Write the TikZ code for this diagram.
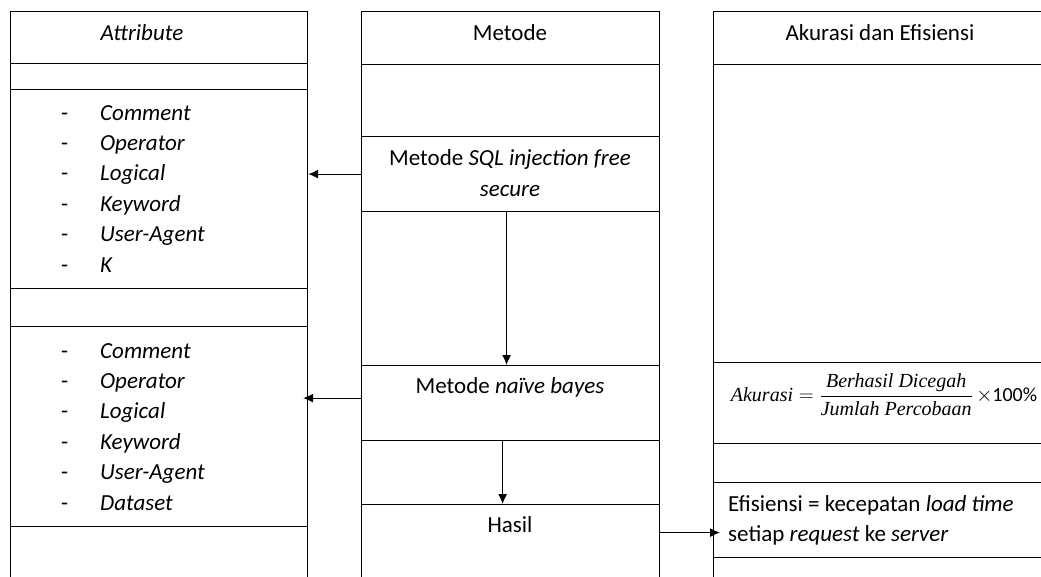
\documentclass[tikz,border=0pt]{standalone}
\usepackage{fontspec}
\setmainfont{Carlito}
\newfontfamily\rumusfont{Liberation Serif}
\usetikzlibrary{arrows.meta}
\tikzset{
  cell/.style={draw,line width=1.2pt,anchor=north west,inner sep=0pt},
  txt/.style={font=\fontsize{23}{30.4}\selectfont,inner sep=0pt},
  arr/.style={line width=1.1pt,-{Latex[length=10pt,width=9pt]}}
}
\begin{document}
\begin{tikzpicture}[x=1pt,y=-1pt]
\useasboundingbox (0,0) rectangle (1041,576);
\clip (0,0) rectangle (1041,576);
% kolom attribute
\node[cell,minimum width=297pt,minimum height=52pt] (attrH) at (10,11) {};
\node[cell,minimum width=297pt,minimum height=26pt] (attrE1) at (10,63) {};
\node[cell,minimum width=297pt,minimum height=199pt] (attrA) at (10,89) {};
\node[cell,minimum width=297pt,minimum height=38pt] (attrE2) at (10,288) {};
\node[cell,minimum width=297pt,minimum height=200pt] (attrB) at (10,326) {};
\node[cell,minimum width=297pt,minimum height=64pt] (attrE3) at (10,526) {};
% kolom metode
\node[cell,minimum width=298pt,minimum height=53pt] (metH) at (361,11) {};
\node[cell,minimum width=298pt,minimum height=72pt] (metE1) at (361,64) {};
\node[cell,minimum width=298pt,minimum height=75pt] (sql) at (361,136) {};
\node[cell,minimum width=298pt,minimum height=154pt] (metE2) at (361,211) {};
\node[cell,minimum width=298pt,minimum height=75pt] (nb) at (361,365) {};
\node[cell,minimum width=298pt,minimum height=64pt] (metE3) at (361,440) {};
\node[cell,minimum width=298pt,minimum height=86pt] (hasil) at (361,504) {};
% kolom akurasi
\node[cell,minimum width=347pt,minimum height=53pt] (akH) at (713,11) {};
\node[cell,minimum width=347pt,minimum height=298pt] (akE1) at (713,64) {};
\node[cell,minimum width=347pt,minimum height=81pt] (akurasi) at (713,362) {};
\node[cell,minimum width=347pt,minimum height=39pt] (akE2) at (713,443) {};
\node[cell,minimum width=347pt,minimum height=75pt] (efi) at (713,482) {};
\node[cell,minimum width=347pt,minimum height=33pt] (akE3) at (713,557) {};
% teks
\node[txt] (tAttr) at (142,33) {\textit{Attribute}};
\node[txt,align=left,anchor=north west] (listA) at (61,105) {%
\makebox[39pt][l]{-}\textit{Comment}\\ \makebox[39pt][l]{-}\textit{Operator}\\
\makebox[39pt][l]{-}\textit{Logical}\\ \makebox[39pt][l]{-}\textit{Keyword}\\
\makebox[39pt][l]{-}\textit{User-Agent}\\ \makebox[39pt][l]{-}\textit{K}};
\node[txt,align=left,anchor=north west] (listB) at (61,343) {%
\makebox[39pt][l]{-}\textit{Comment}\\ \makebox[39pt][l]{-}\textit{Operator}\\
\makebox[39pt][l]{-}\textit{Logical}\\ \makebox[39pt][l]{-}\textit{Keyword}\\
\makebox[39pt][l]{-}\textit{User-Agent}\\ \makebox[39pt][l]{-}\textit{Dataset}};
\node[txt] (tMet) at (510,33) {Metode};
\node[txt,align=center] (tSql) at (510,173) {Metode \textit{SQL injection free}\\ \textit{secure}};
\node[txt] (tNb) at (510,387) {Metode \textit{naïve bayes}};
\node[txt] (tHasil) at (510,525) {Hasil};
\node[txt] (tAk) at (880,33) {Akurasi dan Efisiensi};
\node[inner sep=0pt,font=\fontsize{20}{23}\selectfont] (tRumus) at (884,395)
  {$\displaystyle\textit{\rumusfont Akurasi}=\frac{\textit{\rumusfont Berhasil Dicegah}}{\textit{\rumusfont Jumlah Percobaan}}\,{\times}\textrm{100\%}$};
\node[txt,align=left,anchor=north west] (tEfi) at (728,495) {Efisiensi = kecepatan \textit{load time}\\ setiap \textit{request} ke \textit{server}};
% panah
\draw[arr] (sql.west) -- (sql.west -| attrA.east);
\draw[arr] ([yshift=5pt]nb.west) -- ([yshift=5pt,xshift=-5pt]nb.west -| attrB.east);
\draw[arr] ([xshift=-4pt]sql.south) -- ([xshift=-4pt]nb.north);
\draw[arr] ([xshift=-8pt]nb.south) -- ([xshift=-8pt]hasil.north);
\draw[arr] ([yshift=15pt]hasil.east) -- ([yshift=15pt,xshift=7pt]hasil.east -| efi.west);
\end{tikzpicture}
\end{document}
